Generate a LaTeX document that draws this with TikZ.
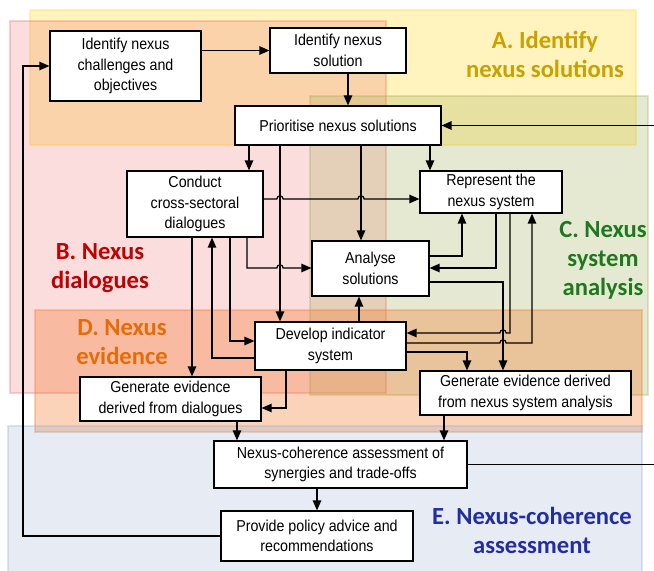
\documentclass[tikz,border=0pt]{standalone}
\usepackage{fontspec}
\setmainfont{Liberation Sans}[FakeStretch=0.9]
\newfontfamily\zonefont{Carlito}
\usetikzlibrary{arrows.meta}

\definecolor{zoneA}{RGB}{255,215,40}
\definecolor{zoneB}{RGB}{240,100,100}
\definecolor{zoneC}{RGB}{160,170,80}
\definecolor{zoneD}{RGB}{240,120,40}
\definecolor{zoneE}{RGB}{150,170,210}
\definecolor{textA}{RGB}{201,161,0}
\definecolor{textB}{RGB}{192,0,0}
\definecolor{textC}{RGB}{30,120,30}
\definecolor{textD}{RGB}{228,108,10}
\definecolor{textE}{RGB}{34,46,160}

\begin{document}
\begin{tikzpicture}[
  x=0.02cm, y=-0.02cm,
  font=\fontsize{9}{11.6}\selectfont,
  >={Triangle[length=2mm, width=1.7mm]},
  box/.style={draw, line width=0.7pt, fill=white, align=center, inner sep=0pt},
  flow/.style={->, line width=0.7pt},
  zone/.style={fill opacity=0.26, draw opacity=0.3, line width=0.6pt},
  zonelabel/.style={font=\zonefont\bfseries\fontsize{14}{16.5}\selectfont, align=center},
]
\useasboundingbox (0,0) rectangle (654,571);
% zones
\path[zone, fill=zoneA, draw=zoneA, fill opacity=0.3] (30,10) rectangle (636,145);
\path[zone, fill=zoneB, draw=zoneB, fill opacity=0.22] (10,21) rectangle (386,393);
\path[zone, fill=zoneC, draw=zoneC] (310,96) rectangle (648,395);
\path[zone, fill=zoneD, draw=zoneD, fill opacity=0.33] (35,310) rectangle (642,432);
\path[zone, fill=zoneE, draw=zoneE, fill opacity=0.24] (8,426) rectangle (642,580);
% zone labels
\node[zonelabel, text=textA] (labA) at (545,54) {A. Identify\\nexus solutions};
\node[zonelabel, text=textB] (labB) at (100,268) {B. Nexus\\dialogues};
\node[zonelabel, text=textC] (labC) at (603,260) {C. Nexus\\system\\analysis};
\node[zonelabel, text=textD] (labD) at (122,342) {D. Nexus\\evidence};
\node[zonelabel, text=textE] (labE) at (532,530) {E. Nexus-coherence\\assessment};
% steps
\node[box, minimum width=3.02cm, minimum height=1.40cm] (chall)   at (125.5,66)  {Identify nexus\\challenges and\\objectives};
\node[box, minimum width=2.72cm, minimum height=0.90cm] (sol)     at (338,50.5)  {Identify nexus\\solution};
\node[box, minimum width=4.12cm, minimum height=0.78cm] (prio)    at (338,125.5) {Prioritise nexus solutions};
\node[box, minimum width=2.72cm, minimum height=1.32cm] (conduct) at (195,204)   {Conduct\\cross-sectoral\\dialogues};
\node[box, minimum width=2.84cm, minimum height=0.84cm] (repr)    at (491,192)   {Represent the\\nexus system};
\node[box, minimum width=2.34cm, minimum height=1.10cm] (analyse) at (370.5,268.5) {Analyse\\solutions};
\node[box, minimum width=3.02cm, minimum height=0.96cm] (develop) at (330.5,346) {Develop indicator\\system};
\node[box, minimum width=3.62cm, minimum height=0.88cm] (gendia)  at (170.5,399) {Generate evidence\\derived from dialogues};
\node[box, minimum width=4.22cm, minimum height=0.88cm] (gensys)  at (525.5,393) {Generate evidence derived\\from nexus system analysis};
\node[box, minimum width=5.06cm, minimum height=0.94cm] (coher)   at (340.5,464.5) {Nexus-coherence assessment of\\synergies and trade-offs};
\node[box, minimum width=3.84cm, minimum height=1.00cm] (policy)  at (317,536)   {Provide policy advice and\\recommendations};
% flows, A
\draw[flow] (chall.east |- sol.west) -- (sol.west);
\draw[flow] (sol.south -| 348,0) -- (prio.north -| 348,0);
\draw[flow] (prio.south -| 249,0) -- (conduct.north -| 249,0);
\draw[flow] (prio.south -| 280,0) -- (develop.north -| 280,0);
\draw[flow] (prio.south -| 361,0) -- (analyse.north -| 361,0);
\draw[flow] (prio.south -| 430,0) -- (repr.north -| 430,0);
% flows, B
\draw[flow] (conduct.east |- 0,199) -- ([xshift=-1.8pt]280,199) arc[start angle=180, end angle=0, radius=1.8pt]
  -- ([xshift=-1.8pt]361,199) arc[start angle=180, end angle=0, radius=1.8pt] -- (repr.west |- 0,199);
\draw[flow] (conduct.south -| 247,0) -- (247,268) -- ([xshift=-1.8pt]280,268)
  arc[start angle=180, end angle=0, radius=1.8pt] -- (analyse.west |- 0,268);
\draw[flow] (conduct.south -| 230,0) |- (develop.west |- 0,341);
\draw[flow] (develop.west |- 0,358) -| (conduct.south -| 212,0);
\draw[flow] (conduct.south -| 192,0) -- (gendia.north -| 192,0);
% flows, C
\draw[flow] (develop.north -| 359,0) -- (analyse.south -| 359,0);
\draw[flow] (analyse.east |- 0,256) -| (repr.south -| 462,0);
\draw[flow] (repr.south -| 496,0) |- (analyse.east |- 0,268);
\draw[flow] (analyse.east |- 0,282) -| (gensys.north -| 503,0);
\draw[flow] (repr.south -| 510,0) -- (510,333) -- ([xshift=1.8pt]503,333)
  arc[start angle=0, end angle=180, radius=1.8pt] -- (develop.east |- 0,333);
\draw[flow] (develop.east |- 0,343) -- ([xshift=-1.8pt]503,343)
  arc[start angle=180, end angle=0, radius=1.8pt] -- (532,343) -- (repr.south -| 532,0);
% flows, D
\draw[flow] (develop.south -| 286,0) |- (gendia.east |- 0,408);
\draw[flow] (develop.east |- 0,352) -| (gensys.north -| 467,0);
% flows, E
\draw[flow] (gendia.south -| 237,0) -- (coher.north -| 237,0);
\draw[flow] (gensys.south -| 444,0) -- (coher.north -| 444,0);
\draw[flow] (coher.south -| policy.north) -- (policy.north);
\draw[flow] (policy.west) -- (policy.west -| 23,0) |- (chall.west);
\draw[flow] (coher.east) -- (coher.east -| 662,0) |- (prio.east);
\end{tikzpicture}
\end{document}
